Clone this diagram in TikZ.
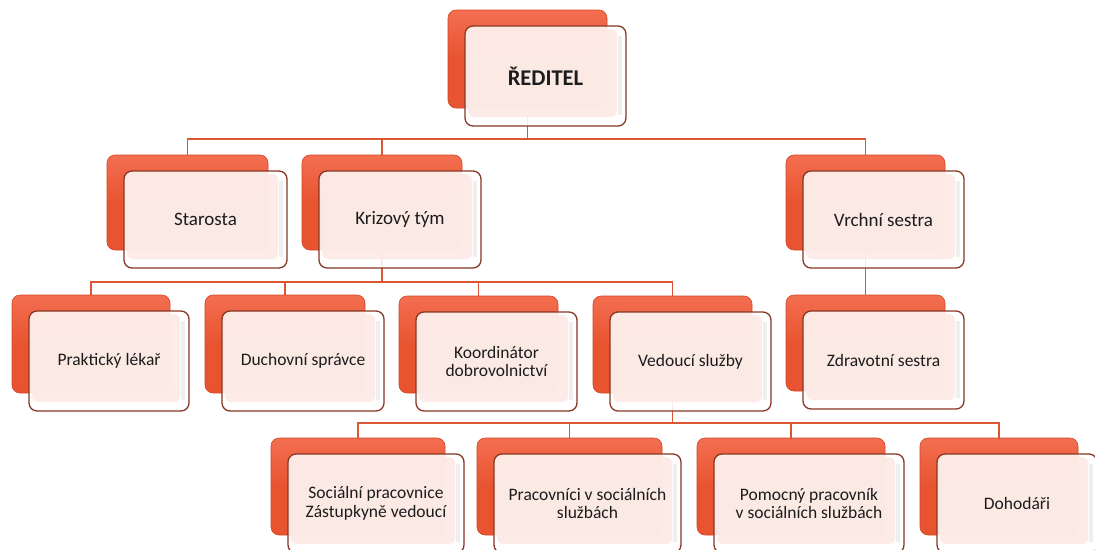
\documentclass[tikz,border=0pt]{standalone}
\usepackage{fontspec}
\setmainfont{Carlito}
\pgfdeclarelayer{bg}
\pgfsetlayers{bg,main}
\definecolor{lineC}{RGB}{218,86,52}
\definecolor{backTop}{RGB}{243,110,80}
\definecolor{backBot}{RGB}{232,84,48}
\definecolor{backEdge}{RGB}{210,72,40}
\definecolor{frontEdge}{RGB}{135,55,35}
\definecolor{innerC}{RGB}{252,234,229}
\definecolor{bevelC}{RGB}{236,236,236}
\definecolor{txtC}{RGB}{28,28,28}
\tikzset{
  conn/.style={draw=lineC, line width=1.7pt},
  backbox/.style={rectangle, rounded corners=8pt, top color=backTop, bottom color=backBot, middle color=backBot, draw=backEdge, line width=0.6pt, anchor=north west, inner sep=0pt, outer sep=0pt},
  frontbox/.style={rectangle, rounded corners=8pt, fill=white, fill opacity=0.86, draw=frontEdge, draw opacity=1, line width=1.3pt, anchor=north west, inner sep=0pt, outer sep=0pt},
  innerfill/.style={fill=innerC, fill opacity=0.9, rounded corners=6pt},
  bevel/.style={fill=bevelC, fill opacity=0.8},
  lbl/.style={text=txtC, align=center, inner sep=0pt, font=\fontsize{17.5}{18.5}\selectfont},
  lblbig/.style={lbl, font=\fontsize{19}{22}\selectfont},
}
% #1 name, #2 x, #3 y, #4 w, #5 h, #6 style, #7 text
\newcommand\orgunit[7]{%
  \node[backbox, minimum width=#4pt, minimum height=#5pt] (b#1) at (#2,#3) {};
  \node[frontbox, minimum width=#4pt+2pt, minimum height=#5pt+2pt] (f#1) at (#2+17,#3+16) {};
  \fill[innerfill] ([xshift=3pt,yshift=-3pt]f#1.north west) rectangle ([xshift=-9pt,yshift=9pt]f#1.south east);
  \fill[bevel] ([xshift=-8pt,yshift=-10pt]f#1.north east) rectangle ([xshift=-4pt,yshift=11pt]f#1.south east);
  \node[#6] (t#1) at (f#1.center) {#7};
}
\begin{document}
\begin{tikzpicture}[x=1pt,y=-1pt]
\useasboundingbox (0,0) rectangle (1095,549);
\coordinate (bus1) at (0,139);
\coordinate (bus2) at (0,282);
\coordinate (bus3) at (0,423);
% Level 1
\orgunit{red}{448}{10}{159}{98}{lblbig}{\fontsize{22.5}{24}\selectfont\textbf{ŘEDITEL}}
% Level 2
\orgunit{sta}{107}{155}{161}{95}{lblbig}{Starosta}
\orgunit{kri}{302}{155}{160}{95}{lblbig}{Krizový tým}
\orgunit{vrc}{786}{155}{159}{95}{lblbig}{Vrchní sestra}
% Level 3
\orgunit{pra}{12}{295}{158}{98}{lbl}{Praktický lékař}
\orgunit{duc}{205}{295}{160}{98}{lbl}{Duchovní správce}
\orgunit{koo}{399}{296}{159}{97}{lbl}{Koordinátor\\dobrovolnictví}
\orgunit{ved}{593}{296}{159}{97}{lbl}{Vedoucí služby}
\orgunit{zdr}{786}{295}{159}{96}{lbl}{Zdravotní sestra}
% Level 4
\orgunit{soc}{271}{438}{174}{97}{lbl}{Sociální pracovnice\\Zástupkyně vedoucí}
\orgunit{prc}{477}{438}{185}{97}{lbl}{Pracovníci v sociálních\\službách}
\orgunit{pom}{697}{438}{188}{97}{lbl}{Pomocný pracovník\\v sociálních službách}
\orgunit{doh}{920}{438}{158}{97}{lbl}{Dohodáři}
% connectors behind the boxes
\begin{pgfonlayer}{bg}
  \draw[conn] (bred.south) -- (bred.south |- bus1) -| (bsta.north);
  \draw[conn] (bred.south |- bus1) -| (bkri.north);
  \draw[conn] (bred.south |- bus1) -| (bvrc.north);
  \draw[conn] (bkri.south) -- (bkri.south |- bus2) -| (bpra.north);
  \draw[conn] (bkri.south |- bus2) -| (bduc.north);
  \draw[conn] (bkri.south |- bus2) -| (bkoo.north);
  \draw[conn] (bkri.south |- bus2) -| (bved.north);
  \draw[conn] (bvrc.south) -- (bzdr.north);
  \draw[conn] (bved.south) -- (bved.south |- bus3) -| (bsoc.north);
  \draw[conn] (bved.south |- bus3) -| (bprc.north);
  \draw[conn] (bved.south |- bus3) -| (bpom.north);
  \draw[conn] (bved.south |- bus3) -| (bdoh.north);
\end{pgfonlayer}
\end{tikzpicture}
\end{document}
